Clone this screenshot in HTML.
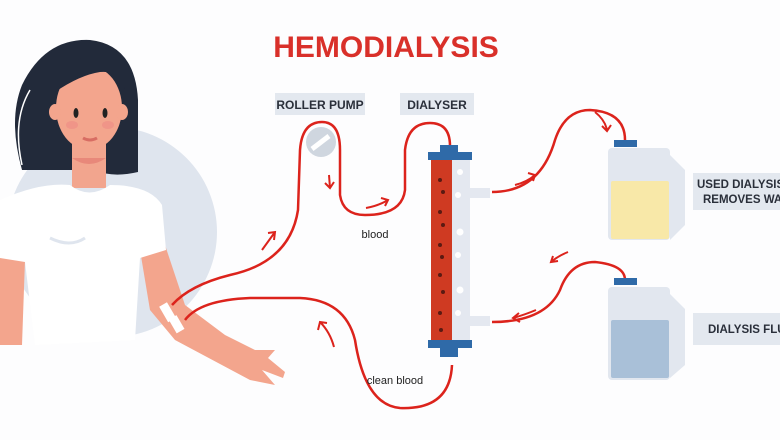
<!DOCTYPE html>
<html><head><style>
body{margin:0;background:#fff}
svg{display:block}
text{font-family:"Liberation Sans",sans-serif}
</style></head><body>
<svg width="780" height="440" viewBox="0 0 780 440">
<rect width="780" height="440" fill="#fdfdfe"/>
<text x="386" y="57" text-anchor="middle" font-size="30" font-weight="bold" fill="#d9302a">HEMODIALYSIS</text>
<circle cx="112" cy="232" r="105" fill="#dfe5ee"/>
<path d="M22 170 Q8 120 22 85 Q45 38 90 40 Q135 45 138 100 L138 172 Q112 178 95 170 L50 170 Z" fill="#222a3a"/>
<path d="M22 165 Q12 120 30 90" stroke="#fff" stroke-width="1.5" fill="none"/>
<rect x="72" y="140" width="34" height="48" fill="#f2a58e"/>
<path d="M72 158 Q89 170 106 158" fill="#e8887a"/>
<path d="M140 250 L165 245 L185 305 L225 335 L255 350 L275 350 L268 358 L285 372 L283 378 L262 370 L275 385 L250 380 L175 340 L150 310Z" fill="#f3a58d"/>
<path d="M0 255 L25 260 L22 345 L0 345Z" fill="#f3a58d"/>
<path d="M0 200 Q40 182 70 185 Q89 200 110 185 Q150 185 162 205 L166 250 L140 258 L135 340 L35 345 L25 262 L0 258Z" fill="#ffffff"/>
<path d="M50 238 Q70 248 85 238" stroke="#dfe5ee" stroke-width="3" fill="none"/>
<ellipse cx="89" cy="108" rx="33" ry="42" fill="#f3a58d"/>
<ellipse cx="55" cy="112" rx="6" ry="8" fill="#f3a58d"/>
<ellipse cx="122" cy="112" rx="6" ry="8" fill="#f3a58d"/>
<path d="M55 92 Q65 55 100 55 Q120 55 125 90 Q120 70 100 72 Q80 75 55 92Z" fill="#222a3a"/>
<ellipse cx="76" cy="113" rx="2.5" ry="5" fill="#222"/><ellipse cx="105" cy="113" rx="2.5" ry="5" fill="#222"/>
<ellipse cx="72" cy="125" rx="6" ry="4" fill="#ee8f86" opacity=".7"/><ellipse cx="108" cy="125" rx="6" ry="4" fill="#ee8f86" opacity=".7"/>
<path d="M83 138 Q90 142 97 138" stroke="#d86d63" stroke-width="3" fill="none"/>
<rect x="163" y="303" width="9" height="18" fill="#fff" transform="rotate(-30 168 312)"/>
<rect x="172" y="316" width="9" height="16" fill="#fff" transform="rotate(-30 177 324)"/>
<rect x="275" y="93" width="90" height="22" fill="#e3e8ef"/>
<text x="320" y="109" text-anchor="middle" font-size="12" font-weight="bold" fill="#2a2f3a">ROLLER PUMP</text>
<rect x="400" y="93" width="74" height="22" fill="#e3e8ef"/>
<text x="437" y="109" text-anchor="middle" font-size="12" font-weight="bold" fill="#2a2f3a">DIALYSER</text>
<rect x="693" y="173" width="87" height="37" fill="#e3e8ef"/>
<text x="697" y="188" font-size="11.5" font-weight="bold" fill="#2a2f3a">USED DIALYSIS</text>
<text x="703" y="203" font-size="11.5" font-weight="bold" fill="#2a2f3a">REMOVES WA</text>
<rect x="693" y="313" width="87" height="32" fill="#e3e8ef"/>
<text x="708" y="333" font-size="11.5" font-weight="bold" fill="#2a2f3a">DIALYSIS FLU</text>
<g stroke="#dc231c" stroke-width="2.5" fill="none">
<path d="M172 305 Q190 285 230 275 Q290 262 298 210 L300 150 Q302 122 322 122 Q340 122 340 150 L340 195 Q343 215 365 215 Q402 215 405 190 L405 150 Q408 123 430 123 Q450 123 450 146"/>
<path d="M185 320 Q200 300 250 298 L300 298 Q345 300 355 340 Q365 405 400 408 Q450 410 452 365"/>
<path d="M492 192 Q540 192 555 140 Q565 110 590 110 Q625 112 625 140"/>
<path d="M492 322 Q545 322 560 290 Q570 262 595 262 Q625 265 625 280"/>
</g>
<g stroke="#dc231c" stroke-width="2" fill="none">
<path d="M262 250 L275 232 M268 233 L275 232 L274 240"/>
<path d="M329 175 L330 188 M325 183 L330 188 L334 182"/>
<path d="M366 208 Q378 206 388 200 M381 198 L388 200 L385 206"/>
<path d="M334 347 Q330 332 320 322 M318 330 L320 322 L327 323"/>
<path d="M515 185 Q527 182 535 175 M528 173 L535 175 L533 181"/>
<path d="M595 112 Q605 120 607 130 M602 126 L607 131 L611 125"/>
<path d="M568 252 Q558 256 551 262 M558 261 L551 262 L553 256"/>
<path d="M536 310 Q524 315 513 318 M519 313 L513 318 L520 322"/>
</g>
<circle cx="321" cy="142" r="15" fill="#cfd6df"/>
<line x1="312" y1="149" x2="329" y2="136" stroke="#fff" stroke-width="5"/>
<rect x="440" y="145" width="18" height="8" fill="#2f6aa8"/>
<rect x="428" y="152" width="44" height="8" fill="#2f6aa8"/>
<rect x="431" y="160" width="21" height="180" fill="#cf3a22"/>
<rect x="452" y="160" width="18" height="180" fill="#e4e8f0"/>
<rect x="470" y="188" width="20" height="10" fill="#e4e8f0"/>
<rect x="470" y="316" width="20" height="10" fill="#e4e8f0"/>
<rect x="428" y="340" width="44" height="8" fill="#2f6aa8"/>
<rect x="440" y="347" width="18" height="10" fill="#2f6aa8"/>
<g fill="#fff"><circle cx="460" cy="172" r="3"/><circle cx="458" cy="195" r="3"/><circle cx="460" cy="232" r="3.5"/><circle cx="458" cy="255" r="3"/><circle cx="460" cy="290" r="3.5"/><circle cx="458" cy="313" r="3"/></g>
<g fill="#5a1a12"><circle cx="440" cy="180" r="2"/><circle cx="443" cy="192" r="2"/><circle cx="440" cy="212" r="2"/><circle cx="443" cy="225" r="2"/><circle cx="440" cy="245" r="2"/><circle cx="442" cy="257" r="2"/><circle cx="440" cy="275" r="2"/><circle cx="443" cy="292" r="2"/><circle cx="440" cy="313" r="2"/><circle cx="441" cy="330" r="2"/></g>
<rect x="614" y="140" width="23" height="7" fill="#2f6aa8"/>
<rect x="608" y="148" width="62" height="92" rx="4" fill="#e2e7ef"/>
<path d="M670 155 L685 170 L685 225 L670 240" fill="#e2e7ef"/>
<rect x="611" y="181" width="58" height="58" rx="2" fill="#f8e8a8"/>
<rect x="614" y="278" width="23" height="7" fill="#2f6aa8"/>
<rect x="608" y="287" width="62" height="93" rx="4" fill="#e2e7ef"/>
<path d="M670 294 L685 309 L685 365 L670 378" fill="#e2e7ef"/>
<rect x="611" y="320" width="58" height="58" rx="2" fill="#a9c0d8"/>
<text x="375" y="238" text-anchor="middle" font-size="11" fill="#222">blood</text>
<text x="395" y="384" text-anchor="middle" font-size="11" fill="#222">clean blood</text>
</svg>
</body></html>
